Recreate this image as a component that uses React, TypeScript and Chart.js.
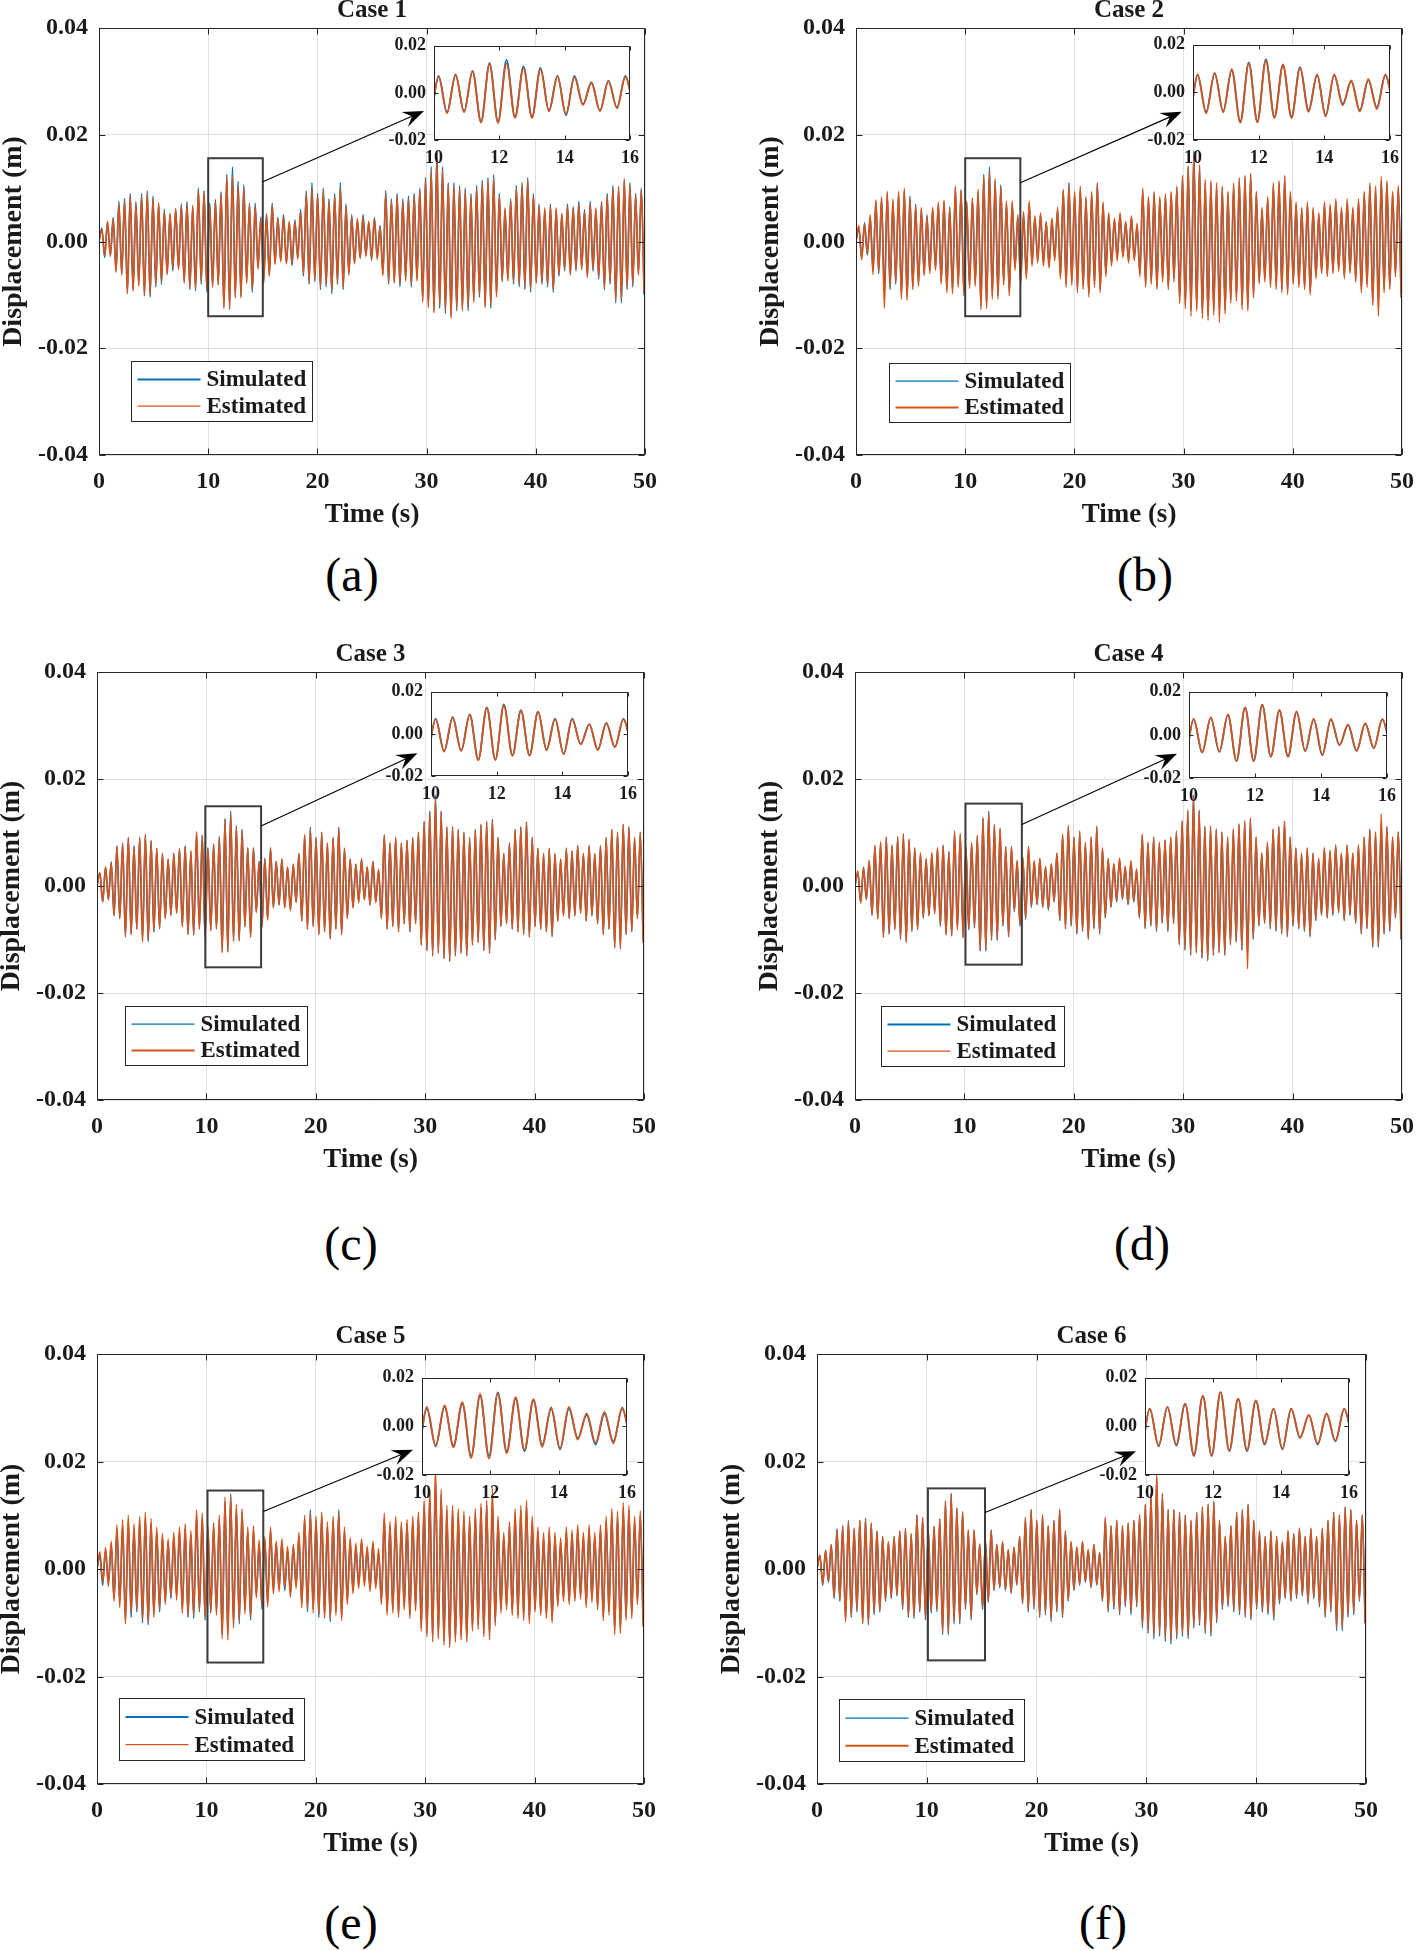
import { useEffect, useRef } from 'react';
import { Chart, registerables } from 'chart.js';

Chart.register(...registerables);

// ---------------- DATA ----------------
// Displacement extrema (mm), sampled every SAMPLE_STEP_S seconds (alternating trough / peak)
const SAMPLE_STEP_S = 0.26;

const SIMULATED_MM = [
  0, 2.5, -3, 3.5, -2.5, 4.5, -5.5, 7.5, -6, 8,
  -9.5, 9, -9, 7.5, -8, 9, -10, 9.5, -10.4, 8.5,
  -8.5, 7, -8, 6, -6, 5, -5.5, 6, -5, 7,
  -7.5, 7.5, -9, 6.5, -9.2, 10, -8, 9.5, -9.5, 7.2,
  -8.2, 7.9, -7.9, 9.3, -12.2, 12.6, -12.2, 14, -10.2, 11.3,
  -10.2, 10.6, -7.5, 7.2, -9.5, 7.2, -4.8, 4.6, -7.5, 5.2,
  -6.2, 7.2, -4, 4.5, -3.5, 5, -4, 3.5, -4.5, 4,
  -3, 6, -6.5, 9.5, -8, 11, -7.5, 9, -9, 10,
  -8.5, 8, -9.8, 9, -8, 11, -9, 7, -6, 5,
  -4, 4, -3, 5, -2.5, 3.5, -3.5, 4.5, -3, 3,
  -6, 9.5, -8, 8, -7.5, 9, -8.5, 8, -7, 8.5,
  -8.5, 9, -7, 10, -11, 12, -12, 14, -13, 17,
  -12.5, 14, -13.5, 11, -14, 11, -13, 10.5, -12.5, 10,
  -13, 9, -11, 10.5, -10.5, 11.5, -12, 12, -12.5, 12.5,
  -10, 9, -7.5, 6, -7, 8, -8, 10.5, -8.5, 11,
  -9, 12, -9.5, 9, -7.5, 7, -8, 6, -8.5, 7,
  -9.5, 6, -6.5, 5, -5.5, 7, -6, 6.5, -5.5, 7.5,
  -5, 6, -6.5, 7.5, -5.5, 6, -7, 7.5, -9, 9,
  -8, 10.5, -11.5, 10, -11.5, 11.5, -9, 11, -8.5, 9,
  -6, 10, -10,
];

const ESTIMATED_CASE1_MM = [
  0, 2.2, -2.6, 3.8, -2.8, 4.2, -5.8, 7.0, -6.3, 7.6,
  -9.8, 8.6, -9.3, 7.0, -8.4, 8.5, -10.2, 9.0, -10.0, 8.0,
  -8.0, 7.3, -7.5, 5.6, -6.2, 5.3, -5.0, 6.2, -5.3, 6.6,
  -7.8, 7.0, -8.6, 6.8, -8.8, 9.6, -7.5, 9.2, -9.0, 6.8,
  -8.6, 7.5, -8.2, 9.0, -12.6, 12.2, -12.8, 12.5, -10.6, 10.5,
  -10.6, 10.0, -7.8, 7.0, -9.0, 6.6, -5.2, 4.2, -7.8, 5.0,
  -6.5, 6.8, -4.3, 4.2, -3.8, 4.6, -4.2, 3.8, -4.2, 3.7,
  -3.3, 5.6, -6.0, 9.0, -7.6, 10.0, -7.2, 8.6, -8.6, 9.6,
  -8.0, 7.6, -9.2, 8.6, -7.6, 10.0, -8.6, 6.6, -6.3, 4.6,
  -4.2, 4.3, -3.2, 4.6, -2.8, 3.8, -3.2, 4.2, -3.3, 2.8,
  -6.4, 9.0, -7.6, 7.6, -7.8, 8.6, -8.0, 7.6, -7.4, 8.0,
  -8.0, 8.6, -7.4, 9.6, -11.4, 11.6, -12.4, 13.2, -13.4, 15.5,
  -12.0, 13.4, -13.0, 10.6, -14.4, 10.4, -12.5, 10.0, -13.0, 9.6,
  -12.4, 8.6, -11.4, 10.0, -10.0, 11.0, -12.4, 11.5, -12.0, 12.0,
  -10.4, 8.6, -7.2, 6.3, -7.4, 7.6, -7.6, 10.0, -8.0, 10.6,
  -8.6, 11.5, -9.0, 8.6, -7.8, 6.6, -7.6, 6.3, -8.0, 6.6,
  -9.0, 6.3, -6.2, 5.3, -5.2, 6.6, -6.3, 6.2, -5.2, 7.0,
  -5.3, 5.6, -6.8, 7.0, -5.2, 6.3, -6.6, 7.2, -8.6, 8.6,
  -7.6, 10.0, -11.0, 10.4, -11.0, 11.8, -8.6, 10.6, -8.0, 8.6,
  -6.3, 9.6, -9.6,
];

const ESTIMATED_CASE2_MM = [
  0, 3.0, -3.4, 3.2, -2.2, 5.0, -6.2, 7.8, -5.6, 8.4,
  -12.5, 9.4, -8.6, 8.0, -7.6, 9.4, -10.8, 10.0, -11.0, 8.0,
  -9.0, 6.6, -8.4, 6.4, -6.4, 4.6, -6.0, 6.4, -5.4, 7.4,
  -8.0, 7.8, -9.6, 6.2, -9.8, 10.4, -8.6, 9.8, -10.2, 7.6,
  -8.8, 8.2, -8.4, 9.8, -12.8, 12.2, -12.6, 13.2, -10.8, 11.8,
  -10.8, 10.2, -8.2, 7.6, -10.2, 7.6, -5.4, 5.0, -8.0, 5.6,
  -7.0, 7.6, -4.6, 4.8, -4.0, 5.4, -4.6, 3.8, -5.0, 4.4,
  -3.6, 6.4, -7.0, 9.8, -8.6, 10.6, -8.2, 9.4, -9.6, 10.4,
  -9.0, 8.4, -10.4, 9.4, -8.6, 10.8, -9.6, 7.4, -6.6, 5.4,
  -4.6, 4.4, -3.6, 5.4, -3.0, 3.8, -4.0, 4.8, -3.6, 3.4,
  -6.6, 10.0, -8.6, 8.4, -8.0, 9.4, -9.0, 8.4, -7.6, 9.0,
  -9.0, 9.4, -7.6, 10.4, -11.6, 12.4, -12.6, 14.2, -14.0, 16.4,
  -13.0, 14.4, -14.4, 11.6, -14.8, 11.4, -13.8, 11.0, -15.2, 10.4,
  -13.6, 9.4, -11.6, 11.0, -11.2, 12.0, -12.8, 12.4, -13.0, 12.8,
  -10.6, 9.4, -8.0, 6.4, -7.6, 8.4, -8.6, 11.0, -9.0, 11.4,
  -9.6, 12.4, -10.0, 9.4, -8.0, 7.4, -8.6, 6.4, -9.0, 7.4,
  -10.0, 6.4, -7.0, 5.4, -6.0, 7.4, -6.6, 7.0, -6.0, 8.0,
  -5.6, 6.4, -7.0, 8.0, -6.0, 6.4, -7.6, 8.0, -9.6, 9.4,
  -8.6, 11.0, -12.0, 10.4, -14.0, 12.2, -9.6, 11.4, -9.0, 9.4,
  -6.6, 10.4, -10.6,
];

const ESTIMATED_CASE3_MM = [
  0, 2.4, -2.9, 3.6, -2.6, 4.4, -5.6, 7.4, -6.1, 7.9,
  -9.4, 9.1, -9.1, 7.4, -8.1, 9.1, -10.5, 9.7, -10.2, 8.4,
  -8.6, 7.1, -7.9, 6.1, -6.1, 5.1, -5.4, 6.1, -5.1, 6.9,
  -7.6, 7.4, -9.1, 6.6, -9.0, 10.2, -8.1, 9.4, -9.6, 7.0,
  -8.4, 7.7, -8.1, 9.1, -12.5, 12.4, -12.4, 13.5, -10.4, 11.0,
  -10.3, 10.4, -7.7, 7.1, -9.6, 7.0, -5.0, 4.5, -7.7, 5.0,
  -6.4, 7.0, -4.1, 4.6, -3.6, 5.1, -4.1, 3.6, -4.6, 4.1,
  -3.1, 6.1, -6.6, 9.6, -8.1, 10.6, -7.6, 9.1, -9.1, 10.1,
  -8.6, 8.1, -9.9, 9.1, -8.1, 10.8, -9.1, 7.1, -6.1, 5.1,
  -4.1, 4.1, -3.1, 5.1, -2.6, 3.6, -3.6, 4.6, -3.1, 3.1,
  -6.1, 9.6, -8.1, 8.1, -7.6, 9.1, -8.6, 8.1, -7.1, 8.6,
  -8.6, 9.1, -7.1, 10.1, -11.1, 12.1, -12.1, 13.8, -13.1, 16.5,
  -12.6, 13.9, -13.6, 11.1, -14.1, 11.1, -13.1, 10.6, -12.6, 10.1,
  -13.1, 9.1, -11.1, 10.6, -10.6, 11.6, -12.1, 12.1, -12.6, 12.4,
  -10.1, 9.1, -7.6, 6.1, -7.1, 8.1, -8.1, 10.6, -8.6, 11.1,
  -9.1, 12.0, -9.6, 9.1, -7.6, 7.1, -8.1, 6.1, -8.6, 7.1,
  -9.2, 6.1, -6.6, 5.1, -5.6, 7.1, -6.1, 6.6, -5.6, 7.6,
  -5.1, 6.1, -6.6, 7.6, -5.6, 6.1, -7.1, 7.6, -9.1, 9.1,
  -8.1, 10.6, -11.6, 10.1, -11.8, 11.6, -9.1, 11.1, -8.6, 9.1,
  -6.1, 10.1, -10.6,
];

const ESTIMATED_CASE4_MM = [
  0, 2.8, -3.2, 3.3, -2.4, 4.8, -5.4, 7.6, -6.2, 8.3,
  -9.6, 9.2, -8.8, 7.7, -8.2, 9.3, -9.8, 9.8, -10.6, 8.8,
  -8.3, 7.2, -8.2, 6.2, -5.8, 5.2, -5.6, 6.3, -5.2, 7.2,
  -7.4, 7.7, -9.2, 6.4, -9.4, 10.3, -8.2, 9.8, -9.7, 7.4,
  -8.0, 8.1, -7.7, 9.5, -12.0, 12.8, -12.0, 13.8, -10.0, 11.6,
  -10.0, 10.9, -7.3, 7.4, -9.3, 7.4, -4.6, 4.8, -7.3, 5.4,
  -6.0, 7.4, -3.8, 4.7, -3.3, 5.2, -3.8, 3.7, -4.3, 4.2,
  -2.8, 6.2, -6.3, 9.7, -7.8, 11.3, -7.3, 9.2, -8.8, 10.3,
  -8.3, 8.2, -10.0, 9.2, -7.8, 11.2, -8.8, 7.2, -5.8, 5.2,
  -3.8, 4.2, -2.8, 5.2, -2.3, 3.7, -3.3, 4.7, -2.8, 3.2,
  -5.8, 9.7, -7.8, 8.2, -7.3, 9.2, -8.3, 8.2, -6.8, 8.7,
  -8.3, 9.2, -6.8, 10.3, -10.8, 12.3, -11.8, 14.2, -12.8, 16.8,
  -12.3, 14.2, -13.3, 11.2, -13.8, 11.2, -12.8, 10.7, -12.3, 10.2,
  -12.8, 9.2, -10.8, 10.7, -10.3, 11.7, -11.8, 12.2, -15.5, 12.7,
  -9.8, 9.2, -7.3, 6.2, -6.8, 8.2, -7.8, 10.7, -8.3, 11.2,
  -8.8, 12.2, -9.3, 9.2, -7.3, 7.2, -7.8, 6.2, -8.3, 7.2,
  -9.3, 6.2, -6.3, 5.2, -5.3, 7.2, -5.8, 6.7, -5.3, 7.7,
  -4.8, 6.2, -6.3, 7.7, -5.3, 6.2, -6.8, 7.7, -8.8, 9.2,
  -7.8, 10.7, -11.3, 10.2, -11.3, 13.5, -8.8, 11.2, -8.3, 9.2,
  -5.8, 10.2, -9.8,
];

const ESTIMATED_CASE5_MM = [
  0, 3.2, -2.4, 4.0, -3.2, 5.2, -6.0, 8.2, -7.2, 9.2,
  -10.2, 10.0, -8.2, 8.4, -7.4, 9.8, -9.4, 10.6, -10.0, 9.4,
  -9.0, 7.8, -7.4, 6.6, -6.6, 5.6, -5.0, 6.8, -5.8, 7.8,
  -8.2, 8.4, -8.6, 7.2, -8.6, 11.0, -7.6, 10.4, -9.0, 8.0,
  -7.8, 8.6, -8.6, 10.0, -13.0, 13.4, -13.2, 13.6, -11.0, 12.0,
  -9.6, 11.2, -8.4, 7.8, -9.0, 8.0, -5.4, 5.4, -6.8, 6.0,
  -7.0, 7.8, -4.6, 5.2, -4.2, 5.6, -3.4, 4.2, -5.2, 4.6,
  -3.6, 6.8, -7.2, 10.0, -7.4, 10.4, -8.2, 9.8, -8.4, 10.6,
  -9.2, 8.8, -9.2, 9.8, -8.6, 10.6, -9.6, 7.8, -6.6, 5.8,
  -4.6, 4.8, -3.6, 5.6, -3.2, 4.2, -4.2, 5.2, -3.6, 3.8,
  -6.6, 10.4, -8.6, 8.8, -8.2, 9.8, -9.0, 8.8, -7.6, 9.2,
  -9.2, 9.8, -7.8, 10.6, -11.6, 12.8, -12.6, 14.8, -13.6, 19.0,
  -13.0, 14.8, -14.2, 11.8, -14.6, 11.8, -13.6, 11.2, -13.2, 10.8,
  -13.6, 9.8, -11.6, 11.2, -11.2, 12.2, -12.6, 12.8, -13.2, 15.0,
  -10.6, 9.8, -8.2, 6.8, -7.6, 8.8, -8.6, 11.2, -9.2, 11.8,
  -9.6, 12.8, -10.2, 9.8, -8.0, 7.8, -8.6, 6.8, -9.2, 7.8,
  -10.0, 6.8, -7.0, 5.8, -6.0, 7.8, -6.6, 7.2, -6.0, 8.2,
  -5.6, 6.8, -7.2, 8.2, -6.2, 6.8, -7.6, 8.2, -9.6, 9.8,
  -8.6, 11.2, -12.2, 10.8, -12.0, 12.4, -9.6, 11.8, -9.2, 9.8,
  -6.6, 10.8, -10.8,
];

const ESTIMATED_CASE6_MM = [
  0, 2.6, -2.7, 3.4, -2.3, 4.6, -5.2, 7.3, -5.7, 8.1,
  -9.8, 8.8, -8.6, 7.6, -7.6, 9.1, -10.2, 9.4, -10.0, 8.6,
  -8.1, 7.1, -7.6, 6.1, -5.7, 5.1, -5.2, 6.1, -4.8, 7.1,
  -7.1, 7.6, -8.6, 6.6, -8.8, 10.1, -7.6, 9.6, -9.1, 7.3,
  -7.8, 8.0, -7.5, 9.4, -11.7, 12.7, -11.8, 14.1, -9.8, 11.4,
  -9.8, 10.7, -7.1, 7.3, -9.1, 7.3, -4.5, 4.7, -7.1, 5.3,
  -5.9, 7.3, -3.8, 4.6, -3.3, 5.1, -3.8, 3.6, -4.3, 4.1,
  -2.8, 6.1, -6.2, 9.6, -7.6, 11.1, -7.1, 9.1, -8.6, 10.1,
  -8.1, 8.1, -9.3, 9.1, -7.6, 11.1, -8.6, 7.1, -5.7, 5.1,
  -3.8, 4.1, -2.8, 5.1, -2.3, 3.6, -3.3, 4.6, -2.8, 3.1,
  -5.7, 9.6, -7.6, 8.1, -7.1, 9.1, -8.1, 8.1, -6.6, 8.6,
  -8.1, 9.1, -6.6, 10.1, -10.5, 12.1, -11.5, 14.1, -12.4, 18.0,
  -11.9, 14.1, -12.9, 11.1, -13.4, 11.1, -12.4, 10.6, -12.0, 10.1,
  -12.4, 9.1, -10.5, 10.6, -10.0, 11.6, -11.5, 12.1, -12.0, 12.6,
  -9.5, 9.1, -7.1, 6.1, -6.6, 8.1, -7.6, 10.6, -8.1, 11.1,
  -8.6, 12.1, -9.1, 9.1, -7.1, 7.1, -7.6, 6.1, -8.1, 7.1,
  -9.0, 6.1, -6.1, 5.1, -5.2, 7.1, -5.7, 6.6, -5.2, 7.6,
  -4.8, 6.1, -6.2, 7.6, -5.2, 6.1, -6.6, 7.6, -8.6, 9.1,
  -7.6, 10.6, -11.0, 10.1, -11.0, 11.6, -8.6, 11.1, -8.1, 9.1,
  -5.7, 10.1, -10.2,
];

const ESTIMATED_BY_CASE = [
  ESTIMATED_CASE1_MM, ESTIMATED_CASE2_MM, ESTIMATED_CASE3_MM,
  ESTIMATED_CASE4_MM, ESTIMATED_CASE5_MM, ESTIMATED_CASE6_MM,
];

const CASE_TITLES = ['Case 1', 'Case 2', 'Case 3', 'Case 4', 'Case 5', 'Case 6'];
const PANEL_LETTERS = ['(a)', '(b)', '(c)', '(d)', '(e)', '(f)'];
const SERIES_LABELS = ['Simulated', 'Estimated'];
const X_TITLE = 'Time (s)';
const Y_TITLE = 'Displacement (m)';
const X_TICKS = [0, 10, 20, 30, 40, 50];
const Y_TICKS = [-0.04, -0.02, 0, 0.02, 0.04];
const Y_TICK_LABELS = ['-0.04', '-0.02', '0.00', '0.02', '0.04'];
const INSET_X_TICKS = [10, 12, 14, 16];
const INSET_Y_TICKS = [-0.02, 0, 0.02];
const INSET_Y_TICK_LABELS = ['-0.02', '0.00', '0.02'];

// ---------------- STYLE / LAYOUT ----------------
const FONT_FAMILY = "'Liberation Serif', 'Times New Roman', serif";
const BLUE = '#0072BD';
const ORANGE = '#D95319';
const AXIS_COLOR = '#262626';
const TEXT_COLOR = '#1a1a1a';
const GRID_COLOR = '#e0e0e0';

const PAD_L = 97, PAD_T = 30, PAD_R = 26, PAD_B = 82;
const IPAD_L = 62, IPAD_T = 12, IPAD_R = 14, IPAD_B = 34;

type Layout = {
  plot: number[];      // left, top, right, bottom (page px)
  inset: number[];     // left, top, right, bottom (page px)
  zoomBox: number[];   // x0, x1, y0, y1 (data)
  arrow: number[];     // from x, y, to x, y (data)
  legend: number[];    // dx from plot left, dy from plot bottom, width, height
  letter: number[];    // centre of panel letter
  legendWidths: number[];
};

const LAYOUTS: Layout[] = [
  { plot: [99, 28, 645, 455], inset: [434, 39, 633, 140], zoomBox: [10, 15, -0.014, 0.0156], arrow: [15, 0.0112, 29.76, 0.02445], legend: [32, -94, 181, 60], letter: [352, 575], legendWidths: [2, 1.2] },
  { plot: [856, 28, 1402, 455], inset: [1193, 38, 1393, 140], zoomBox: [10, 15.05, -0.014, 0.0156], arrow: [15.05, 0.011, 29.83, 0.0243], legend: [33, -92, 181, 59], letter: [1145, 575], legendWidths: [1.2, 2] },
  { plot: [97, 672, 644, 1100], inset: [431, 685, 631, 776], zoomBox: [9.9, 15, -0.0152, 0.0149], arrow: [15, 0.0112, 29.29, 0.0248], legend: [28, -94, 182, 59], letter: [351, 1244], legendWidths: [1.2, 2] },
  { plot: [855, 672, 1402, 1100], inset: [1189, 685, 1390, 778], zoomBox: [10.1, 15.25, -0.0147, 0.0154], arrow: [15.25, 0.0115, 29.43, 0.0247], legend: [26, -94, 183, 60], letter: [1142, 1244], legendWidths: [2, 1.2] },
  { plot: [97, 1354, 644, 1784], inset: [422, 1371, 630, 1475], zoomBox: [10.1, 15.2, -0.0174, 0.0146], arrow: [15.2, 0.0107, 28.88, 0.0222], legend: [22, -86, 185, 62], letter: [351, 1923], legendWidths: [2, 1.2] },
  { plot: [817, 1354, 1366, 1784], inset: [1145, 1371, 1352, 1475], zoomBox: [10.1, 15.3, -0.017, 0.015], arrow: [15.3, 0.0105, 29.05, 0.0219], legend: [22, -85, 185, 62], letter: [1103, 1923], legendWidths: [1.2, 2] },
];

function toPoints(mm: number[]) {
  return mm.map((v, k) => ({ x: k * SAMPLE_STEP_S, y: v / 1000 }));
}

function font(size: number, weight: string = 'bold', lineHeight: number = 1.2) {
  return { family: FONT_FAMILY, size, weight: weight as any, lineHeight };
}

function drawFrame(ctx: CanvasRenderingContext2D, chart: any, xt: number[], yt: number[], len: number) {
  const ca = chart.chartArea;
  const xs = chart.scales.x, ys = chart.scales.y;
  const l = Math.round(ca.left) + 0.5, r = Math.round(ca.right) - 0.5;
  const t = Math.round(ca.top) + 0.5, b = Math.round(ca.bottom) - 0.5;
  ctx.strokeStyle = AXIS_COLOR;
  ctx.lineWidth = 1;
  ctx.strokeRect(l, t, r - l, b - t);
  ctx.beginPath();
  xt.forEach((v) => {
    const px = Math.round(xs.getPixelForValue(v)) + 0.5;
    ctx.moveTo(px, b); ctx.lineTo(px, b - len);
    ctx.moveTo(px, t); ctx.lineTo(px, t + len);
  });
  yt.forEach((v) => {
    const py = Math.round(ys.getPixelForValue(v)) + 0.5;
    ctx.moveTo(l, py); ctx.lineTo(l + len, py);
    ctx.moveTo(r, py); ctx.lineTo(r - len, py);
  });
  ctx.stroke();
}

function mainDecor(i: number) {
  const lay = LAYOUTS[i];
  return {
    id: 'mainDecor',
    afterDraw(chart: any) {
      const ctx: CanvasRenderingContext2D = chart.ctx;
      const ca = chart.chartArea;
      const xs = chart.scales.x, ys = chart.scales.y;
      ctx.save();
      drawFrame(ctx, chart, X_TICKS, Y_TICKS, 6);

      // title and axis titles
      ctx.fillStyle = TEXT_COLOR;
      ctx.font = `bold 25px ${FONT_FAMILY}`;
      ctx.textAlign = 'center';
      ctx.textBaseline = 'middle';
      ctx.fillText(CASE_TITLES[i], (ca.left + ca.right) / 2, ca.top - 17);

      ctx.font = `bold 27px ${FONT_FAMILY}`;
      ctx.fillText(X_TITLE, (ca.left + ca.right) / 2, ca.bottom + 60);

      ctx.save();
      ctx.translate(ca.left - 85, (ca.top + ca.bottom) / 2);
      ctx.rotate(-Math.PI / 2);
      ctx.font = `bold 28px ${FONT_FAMILY}`;
      ctx.fillText(Y_TITLE, 0, 0);
      ctx.restore();

      // zoom box
      const [zx0, zx1, zy0, zy1] = lay.zoomBox;
      const bx0 = xs.getPixelForValue(zx0), bx1 = xs.getPixelForValue(zx1);
      const by0 = ys.getPixelForValue(zy1), by1 = ys.getPixelForValue(zy0);
      ctx.strokeStyle = '#3c3c3c';
      ctx.lineWidth = 2;
      ctx.strokeRect(bx0, by0, bx1 - bx0, by1 - by0);

      // arrow
      const [ax0, ay0, ax1, ay1] = lay.arrow;
      const x1 = xs.getPixelForValue(ax0), y1 = ys.getPixelForValue(ay0);
      const x2 = xs.getPixelForValue(ax1), y2 = ys.getPixelForValue(ay1);
      const ang = Math.atan2(y2 - y1, x2 - x1);
      const c = Math.cos(ang), s = Math.sin(ang);
      const hl = 21, hw = 8;
      ctx.strokeStyle = '#000';
      ctx.lineWidth = 1.1;
      ctx.beginPath();
      ctx.moveTo(x1, y1);
      ctx.lineTo(x2 - c * hl * 0.6, y2 - s * hl * 0.6);
      ctx.stroke();
      const bx = x2 - c * hl, by = y2 - s * hl;
      const nx = x2 - c * hl * 0.62, ny = y2 - s * hl * 0.62;
      ctx.fillStyle = '#000';
      ctx.beginPath();
      ctx.moveTo(x2, y2);
      ctx.lineTo(bx - s * hw, by + c * hw);
      ctx.lineTo(nx, ny);
      ctx.lineTo(bx + s * hw, by - c * hw);
      ctx.closePath();
      ctx.fill();

      // legend
      const [dx, dy, lw, lh] = lay.legend;
      const lx = Math.round(ca.left + dx) + 0.5, ly = Math.round(ca.bottom + dy) + 0.5;
      ctx.fillStyle = '#ffffff';
      ctx.fillRect(lx, ly, lw, lh);
      ctx.strokeStyle = AXIS_COLOR;
      ctx.lineWidth = 1;
      ctx.strokeRect(lx, ly, lw, lh);
      const colors = [BLUE, ORANGE];
      const rows = [ly + lh * 0.3, ly + lh * 0.745];
      SERIES_LABELS.forEach((lab, k) => {
        ctx.strokeStyle = colors[k];
        ctx.lineWidth = lay.legendWidths[k];
        ctx.beginPath();
        ctx.moveTo(lx + 6, rows[k]);
        ctx.lineTo(lx + 69, rows[k]);
        ctx.stroke();
        ctx.fillStyle = TEXT_COLOR;
        ctx.font = `bold 23px ${FONT_FAMILY}`;
        ctx.textAlign = 'left';
        ctx.textBaseline = 'middle';
        ctx.fillText(lab, lx + 75, rows[k] + 1);
      });
      ctx.restore();
    },
  };
}

const insetDecor = {
  id: 'insetDecor',
  beforeDraw(chart: any) {
    const ctx: CanvasRenderingContext2D = chart.ctx;
    const ca = chart.chartArea;
    ctx.save();
    ctx.fillStyle = '#ffffff';
    ctx.fillRect(ca.left, ca.top, ca.right - ca.left, ca.bottom - ca.top);
    ctx.restore();
  },
  afterDraw(chart: any) {
    const ctx: CanvasRenderingContext2D = chart.ctx;
    ctx.save();
    drawFrame(ctx, chart, INSET_X_TICKS, INSET_Y_TICKS, 4);
    ctx.restore();
  },
};

function Panel({ i }: { i: number }) {
  const mainRef = useRef<HTMLCanvasElement | null>(null);
  const insetRef = useRef<HTMLCanvasElement | null>(null);
  const lay = LAYOUTS[i];
  const [L, T, R, B] = lay.plot;
  const mW = R - L + PAD_L + PAD_R;
  const mH = B - T + PAD_T + PAD_B;
  const [iL, iT, iR, iB] = lay.inset;
  const iW = iR - iL + IPAD_L + IPAD_R;
  const iH = iB - iT + IPAD_T + IPAD_B;

  useEffect(() => {
    const sim = toPoints(SIMULATED_MM);
    const est = toPoints(ESTIMATED_BY_CASE[i]);

    const datasets = (w: number) => [
      { label: SERIES_LABELS[0], data: sim, borderColor: BLUE, backgroundColor: BLUE, borderWidth: w, pointRadius: 0, order: 1, cubicInterpolationMode: 'monotone' as const, fill: false },
      { label: SERIES_LABELS[1], data: est, borderColor: ORANGE, backgroundColor: ORANGE, borderWidth: w, pointRadius: 0, order: 0, cubicInterpolationMode: 'monotone' as const, fill: false },
    ];

    const main = new Chart(mainRef.current as HTMLCanvasElement, {
      type: 'line',
      data: { datasets: datasets(1.6) as any },
      options: {
        responsive: false,
        maintainAspectRatio: false,
        animation: false,
        events: [],
        layout: { padding: { left: 0, top: PAD_T, right: PAD_R, bottom: 0 } },
        plugins: { legend: { display: false }, tooltip: { enabled: false }, title: { display: false } },
        scales: {
          x: {
            type: 'linear', min: 0, max: 50,
            afterBuildTicks: (s: any) => { s.ticks = X_TICKS.map((v) => ({ value: v })); },
            afterFit: (s: any) => { s.height = PAD_B; },
            grid: { color: GRID_COLOR, lineWidth: 1, drawTicks: false },
            border: { display: false },
            ticks: { font: font(24), color: TEXT_COLOR, padding: 12, maxRotation: 0, autoSkip: false, callback: (v: any) => String(v) },
            title: { display: false },
          },
          y: {
            type: 'linear', min: -0.04, max: 0.04,
            afterBuildTicks: (s: any) => { s.ticks = Y_TICKS.map((v) => ({ value: v })); },
            afterFit: (s: any) => { s.width = PAD_L; },
            grid: { color: GRID_COLOR, lineWidth: 1, drawTicks: false },
            border: { display: false },
            ticks: { font: font(24), color: TEXT_COLOR, padding: 11, autoSkip: false, callback: (v: any) => Y_TICK_LABELS[Y_TICKS.indexOf(v)] ?? '' },
            title: { display: false },
          },
        },
      },
      plugins: [mainDecor(i)],
    });

    const inset = new Chart(insetRef.current as HTMLCanvasElement, {
      type: 'line',
      data: { datasets: datasets(1.8) as any },
      options: {
        responsive: false,
        maintainAspectRatio: false,
        animation: false,
        events: [],
        layout: { padding: { left: 0, top: IPAD_T, right: IPAD_R, bottom: 0 } },
        plugins: { legend: { display: false }, tooltip: { enabled: false }, title: { display: false } },
        scales: {
          x: {
            type: 'linear', min: 10, max: 16,
            afterBuildTicks: (s: any) => { s.ticks = INSET_X_TICKS.map((v) => ({ value: v })); },
            afterFit: (s: any) => { s.height = IPAD_B; },
            grid: { display: false, drawTicks: false },
            border: { display: false },
            ticks: { font: font(18), color: TEXT_COLOR, padding: 8, maxRotation: 0, autoSkip: false, callback: (v: any) => String(v) },
          },
          y: {
            type: 'linear', min: -0.02, max: 0.02,
            afterBuildTicks: (s: any) => { s.ticks = INSET_Y_TICKS.map((v) => ({ value: v })); },
            afterFit: (s: any) => { s.width = IPAD_L; },
            grid: { display: false, drawTicks: false },
            border: { display: false },
            ticks: { font: font(18), color: TEXT_COLOR, padding: 8, autoSkip: false, callback: (v: any) => INSET_Y_TICK_LABELS[INSET_Y_TICKS.indexOf(v)] ?? '' },
          },
        },
      },
      plugins: [insetDecor],
    });

    return () => { main.destroy(); inset.destroy(); };
  }, [i]);

  return (
    <>
      <canvas ref={mainRef} width={mW} height={mH}
        style={{ position: 'absolute', left: L - PAD_L, top: T - PAD_T, width: mW, height: mH }} />
      <canvas ref={insetRef} width={iW} height={iH}
        style={{ position: 'absolute', left: iL - IPAD_L, top: iT - IPAD_T, width: iW, height: iH }} />
      <div style={{
        position: 'absolute', left: lay.letter[0], top: lay.letter[1], transform: 'translate(-50%, -50%)',
        fontFamily: FONT_FAMILY, fontSize: 48, lineHeight: 1, color: '#000', whiteSpace: 'nowrap',
      }}>{PANEL_LETTERS[i]}</div>
    </>
  );
}

export default function App() {
  return (
    <div style={{ position: 'absolute', left: 0, top: 0, width: 1416, height: 1951, background: '#ffffff', overflow: 'hidden' }}>
      {LAYOUTS.map((_, i) => <Panel key={i} i={i} />)}
    </div>
  );
}
